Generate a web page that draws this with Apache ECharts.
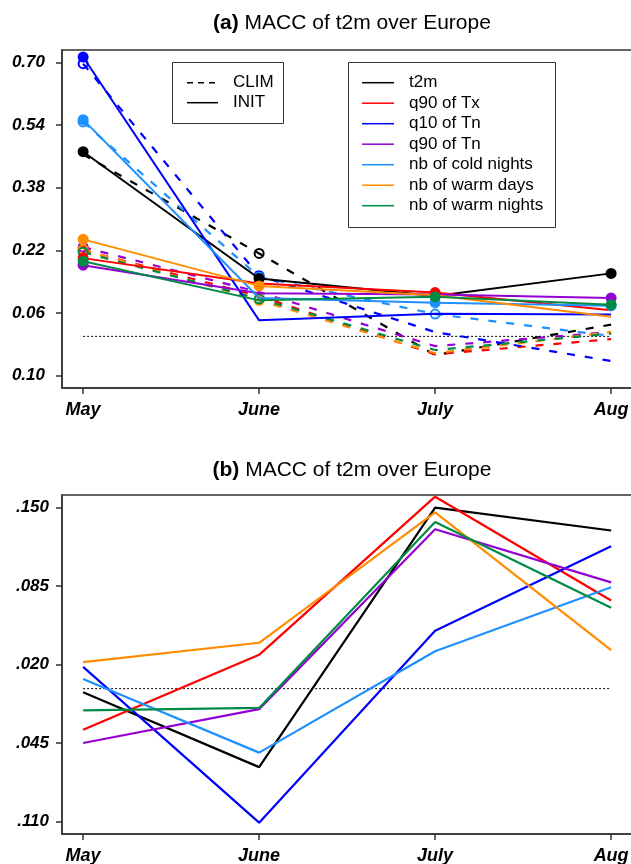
<!DOCTYPE html>
<html><head><meta charset="utf-8">
<script src="https://cdn.jsdelivr.net/npm/echarts@6/dist/echarts.min.js"></script>
<style>html,body{margin:0;padding:0;background:#fff}#c{width:631px;height:864px}</style>
</head><body><div id="c"></div>
<script>
const months = ['May', 'June', 'July', 'Aug'];
const varNames = ['t2m', 'q90 of Tx', 'q10 of Tn', 'q90 of Tn', 'nb of cold nights', 'nb of warm days', 'nb of warm nights'];
const varColors = ['#000000', '#ff0000', '#0000ff', '#9400d3', '#1e90ff', '#ff8c00', '#008b45'];

// panel (a) tick labels
const ticksA = [-0.10, 0.06, 0.22, 0.38, 0.54, 0.70];
// panel (b) tick labels
const ticksB = [-0.110, -0.045, 0.020, 0.085, 0.150];

// panel (a), INIT (solid lines)
const initT2m        = [0.472, 0.148, 0.103, 0.161];
const initTx90       = [0.200, 0.135, 0.112, 0.067];
const initTn10       = [0.714, 0.041, 0.058, 0.056];
const initTn90       = [0.182, 0.110, 0.107, 0.098];
const initCold       = [0.554, 0.098, 0.086, 0.078];
const initWarmDays   = [0.248, 0.129, 0.105, 0.050];
const initWarmNights = [0.192, 0.092, 0.101, 0.081];
// panel (a), CLIM (dashed lines)
const climT2m        = [0.465, 0.212, -0.048, 0.030];
const climTx90       = [0.220, 0.103, -0.046, -0.007];
const climTn10       = [0.697, 0.155, 0.011, -0.063];
const climTn90       = [0.228, 0.113, -0.025, 0.011];
const climCold       = [0.548, 0.152, 0.057, 0.001];
const climWarmDays   = [0.222, 0.092, -0.043, 0.011];
const climWarmNights = [0.215, 0.096, -0.035, 0.007];
// markers (1 = marked point)
const markInit = [[1,1,0,1],[1,0,1,0],[1,0,0,0],[1,0,0,1],[1,0,1,1],[1,1,0,0],[1,0,1,1]];
const markClim = [[0,1,0,0],[1,0,0,0],[1,1,0,0],[1,0,0,0],[1,1,1,0],[1,1,0,0],[1,1,0,0]];

// panel (b)
const bT2m        = [-0.003, -0.065, 0.150, 0.131];
const bTx90       = [-0.034, 0.028, 0.159, 0.073];
const bTn10       = [0.018, -0.111, 0.048, 0.118];
const bTn90       = [-0.045, -0.017, 0.132, 0.088];
const bCold       = [0.008, -0.053, 0.031, 0.084];
const bWarmDays   = [0.022, 0.038, 0.146, 0.032];
const bWarmNights = [-0.018, -0.016, 0.138, 0.067];

const initA = [initT2m, initTx90, initTn10, initTn90, initCold, initWarmDays, initWarmNights];
const climA = [climT2m, climTx90, climTn10, climTn90, climCold, climWarmDays, climWarmNights];
const panelB = [bT2m, bTx90, bTn10, bTn90, bCold, bWarmDays, bWarmNights];

const FONT = '"Liberation Sans", Arial, sans-serif';
const INK = '#333';

function xAxisDef(gi) {
  return {
    type: 'value', gridIndex: gi, min: -0.12, max: 3.13,
    axisLine: { show: true, onZero: false, lineStyle: { color: INK, width: 1.5 } },
    axisTick: { show: true, customValues: [0, 1, 2, 3], length: 6, lineStyle: { color: INK, width: 1.5 } },
    axisLabel: { customValues: [0, 1, 2, 3], formatter: v => months[Math.round(v)], margin: 13,
      fontFamily: FONT, fontSize: 18, fontWeight: 'bold', fontStyle: 'italic', color: '#000' },
    splitLine: { show: false }
  };
}
function yAxisDef(gi, min, max, ticks, fmt, margin) {
  return {
    type: 'value', gridIndex: gi, min: min, max: max,
    axisLine: { show: true, onZero: false, lineStyle: { color: INK, width: 1.5 } },
    axisTick: { show: true, customValues: ticks, length: 6, lineStyle: { color: INK, width: 1.5 } },
    axisLabel: { customValues: ticks, formatter: fmt, margin: margin,
      fontFamily: FONT, fontSize: 17, fontWeight: 'bold', fontStyle: 'italic', color: '#000' },
    splitLine: { show: false }
  };
}

const series = [];
function pts(arr, marks, sym) {
  return arr.map((v, i) => ({ value: [i, v], symbol: (marks && marks[i]) ? sym : 'none' }));
}
// zero reference lines
[0, 1].forEach(gi => series.push({
  type: 'line', xAxisIndex: gi, yAxisIndex: gi, data: [[0, 0], [3, 0]], symbol: 'none', silent: true,
  lineStyle: { color: '#000', width: 1, type: [2, 2] }, z: 1
}));
// panel a: CLIM dashed
climA.forEach((arr, k) => series.push({
  name: varNames[k] + ' CLIM', type: 'line', xAxisIndex: 0, yAxisIndex: 0,
  data: pts(arr, markClim[k], 'circle'), symbolSize: 9,
  itemStyle: { color: 'rgba(0,0,0,0)', borderColor: varColors[k], borderWidth: 2 },
  lineStyle: { color: varColors[k], width: 2.2, type: [8, 10] }, z: 2
}));
// panel a: INIT solid
initA.forEach((arr, k) => series.push({
  name: varNames[k] + ' INIT', type: 'line', xAxisIndex: 0, yAxisIndex: 0,
  data: pts(arr, markInit[k], 'circle'), symbolSize: 11,
  itemStyle: { color: varColors[k] },
  lineStyle: { color: varColors[k], width: 2 }, z: 3
}));
// panel b
panelB.forEach((arr, k) => series.push({
  name: varNames[k], type: 'line', xAxisIndex: 1, yAxisIndex: 1,
  data: arr.map((v, i) => [i, v]), symbol: 'none',
  lineStyle: { color: varColors[k], width: 2.2 }, z: 2
}));

// legends
const graphic = [];
graphic.push({ type: 'rect', shape: { x: 172.5, y: 62.5, width: 111, height: 61 },
  style: { fill: '#fff', stroke: INK, lineWidth: 1 }, z: 10 });
[['CLIM', [6, 5]], ['INIT', null]].forEach((e, i) => {
  const y = 82.7 + i * 20;
  graphic.push({ type: 'line', shape: { x1: 187, y1: y, x2: 218, y2: y },
    style: { stroke: '#000', lineWidth: 1.5, lineDash: e[1] }, z: 11 });
  graphic.push({ type: 'text', x: 233, y: y, style: { text: e[0], font: '17px ' + FONT, fill: '#000', verticalAlign: 'middle' }, z: 11 });
});
graphic.push({ type: 'rect', shape: { x: 348.5, y: 62.5, width: 207, height: 165 },
  style: { fill: '#fff', stroke: INK, lineWidth: 1 }, z: 10 });
varNames.forEach((nm, k) => {
  const y = 82.7 + k * 20.5;
  graphic.push({ type: 'line', shape: { x1: 362, y1: y, x2: 394, y2: y },
    style: { stroke: varColors[k], lineWidth: 1.5 }, z: 11 });
  graphic.push({ type: 'text', x: 409, y: y, style: { text: nm, font: '17px ' + FONT, fill: '#000', verticalAlign: 'middle' }, z: 11 });
});

const titleStyle = { fontFamily: FONT, fontSize: 21, fontWeight: 'normal', color: '#000',
  rich: { b: { fontFamily: FONT, fontSize: 21, fontWeight: 'bold', color: '#000' },
          n: { fontFamily: FONT, fontSize: 21, fontWeight: 'normal', color: '#000' } } };

const option = {
  animation: false,
  backgroundColor: '#fff',
  title: [
    { text: '{b|(a)}{n| MACC of t2m over Europe}', left: 352, top: 13, textAlign: 'center', textStyle: titleStyle, padding: 0 },
    { text: '{b|(b)}{n| MACC of t2m over Europe}', left: 352, top: 460, textAlign: 'center', textStyle: titleStyle, padding: 0 }
  ],
  grid: [
    { left: 62, top: 50, width: 572, height: 338, show: true, borderColor: INK, borderWidth: 1.5, backgroundColor: 'transparent', outerBoundsMode: 'none', containLabel: false },
    { left: 62, top: 495, width: 572, height: 339, show: true, borderColor: INK, borderWidth: 1.5, backgroundColor: 'transparent', outerBoundsMode: 'none', containLabel: false }
  ],
  xAxis: [xAxisDef(0), xAxisDef(1)],
  yAxis: [
    yAxisDef(0, -0.132, 0.732, ticksA, v => Math.abs(v).toFixed(2), 17),
    yAxisDef(1, -0.1204, 0.1604, ticksB, v => '.' + String(Math.round(Math.abs(v) * 1000)).padStart(3, '0'), 13)
  ],
  graphic: graphic,
  series: series
};
const chart = echarts.init(document.getElementById('c'), null, { renderer: 'canvas' });
chart.setOption(option);
</script>
</body></html>
